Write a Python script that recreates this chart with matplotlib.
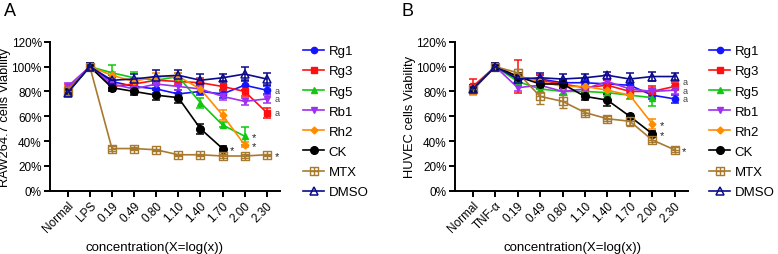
import matplotlib

matplotlib.use("Agg")

import matplotlib.pyplot as plt
import numpy as np
from matplotlib.lines import Line2D
from matplotlib.path import Path

plt.rcParams["font.family"] = ["Liberation Sans", "DejaVu Sans"]

nan = np.nan

SERIES = ["Rg1", "Rg3", "Rg5", "Rb1", "Rh2", "CK", "MTX", "DMSO"]

# panel A: RAW264.7
labels_a = ["Normal", "LPS", "0.19", "0.49", "0.80", "1.10", "1.40", "1.70", "2.00", "2.30"]
a_rg1 = [79, 100, 88, 84, 82, 78, 80, 78, 85, 81]
a_rg3 = [82, 100, 84, 86, 89, 88, 87, 84, 80, 63]
a_rg5 = [80, 100, 95, 91, 89, 92, 71, 53, 44, nan]
a_rb1 = [84, 100, 86, 82, 86, 84, 82, 76, 72, 74]
a_rh2 = [81, 100, 93, 88, 92, 92, 82, 61, 37, nan]
a_ck = [80, 100, 83, 80, 77, 75, 50, 34, nan, nan]
a_mtx = [80, 100, 34, 34, 33, 29, 29, 28, 28, 29]
a_dmso = [79, 100, 89, 90, 92, 93, 89, 91, 94, 90]

a_err_rg1 = [3, 3, 3, 3, 3, 3, 3, 3, 4, 3]
a_err_rg3 = [3, 3, 4, 3, 3, 3, 4, 4, 4, 4]
a_err_rg5 = [3, 3, 6, 5, 3, 3, 4, 2, 7, nan]
a_err_rb1 = [3, 3, 3, 3, 3, 3, 3, 3, 3, 3]
a_err_rh2 = [3, 3, 3, 3, 3, 3, 3, 4, 2, nan]
a_err_ck = [3, 3, 3, 3, 4, 4, 4, 2, nan, nan]
a_err_mtx = [3, 3, 2, 1, 1, 1, 1, 2, 2, 1]
a_err_dmso = [3, 3, 4, 4, 5, 4, 5, 3, 6, 5]

# panel B: HUVEC
labels_b = ["Normal", "TNF-\u03b1", "0.19", "0.49", "0.80", "1.10", "1.40", "1.70", "2.00", "2.30"]
b_rg1 = [82, 100, 90, 90, 87, 87, 86, 85, 77, 74]
b_rg3 = [84, 100, 92, 89, 86, 83, 85, 80, 80, 84]
b_rg5 = [82, 100, 88, 82, 80, 80, 79, 77, 75, nan]
b_rb1 = [82, 100, 83, 85, 80, 82, 88, 82, 80, 81]
b_rh2 = [81, 100, 92, 88, 84, 84, 81, 77, 54, nan]
b_ck = [82, 100, 92, 86, 86, 76, 73, 60, 46, nan]
b_mtx = [82, 100, 95, 76, 72, 63, 58, 56, 41, 33]
b_dmso = [82, 100, 90, 91, 90, 91, 93, 90, 92, 92]

b_err_rg1 = [3, 3, 3, 3, 3, 3, 3, 3, 3, 3]
b_err_rg3 = [6, 3, 13, 4, 3, 3, 4, 3, 4, 3]
b_err_rg5 = [3, 3, 3, 3, 3, 3, 3, 3, 7, nan]
b_err_rb1 = [3, 3, 3, 3, 3, 3, 5, 3, 3, 3]
b_err_rh2 = [4, 3, 3, 3, 3, 3, 3, 3, 4, nan]
b_err_ck = [3, 3, 3, 3, 3, 3, 5, 2, 2, nan]
b_err_mtx = [3, 3, 3, 6, 5, 2, 2, 4, 2, 2]
b_err_dmso = [3, 3, 4, 4, 4, 3, 3, 5, 4, 3]

# significance marks: (series, x index, text)
marks_a = [("CK", 7, "*"), ("Rg5", 8, "*"), ("Rh2", 8, "*"), ("MTX", 9, "*"),
           ("Rg1", 9, "a"), ("Rb1", 9, "a"), ("Rg3", 9, "a")]
marks_b = [("Rh2", 8, "*"), ("CK", 8, "*"), ("MTX", 9, "*"),
           ("Rg3", 9, "a"), ("Rb1", 9, "a"), ("Rg1", 9, "a")]

COLORS = {
    "Rg1": "#1414ff",
    "Rg3": "#ff1010",
    "Rg5": "#10c810",
    "Rb1": "#a030f0",
    "Rh2": "#ff8c00",
    "CK": "#000000",
    "MTX": "#a87a30",
    "DMSO": "#0a0a8c",
}

box_cross = Path(
    [(-1, -1), (1, -1), (1, 1), (-1, 1), (-1, -1), (0, -1), (0, 1), (-1, 0), (1, 0)],
    [Path.MOVETO, Path.LINETO, Path.LINETO, Path.LINETO, Path.CLOSEPOLY,
     Path.MOVETO, Path.LINETO, Path.MOVETO, Path.LINETO],
)

STYLES = {
    "Rg1": dict(marker="o", ms=4.5),
    "Rg3": dict(marker="s", ms=4.5),
    "Rg5": dict(marker="^", ms=5),
    "Rb1": dict(marker="v", ms=5),
    "Rh2": dict(marker="D", ms=3.5),
    "CK": dict(marker="o", ms=5.5),
    "MTX": dict(marker=box_cross, ms=6, mfc="none", mew=1.0),
    "DMSO": dict(marker="^", ms=5.5, mfc="none", mew=1.1),
}

PX_PER_PCT = 149 / 120  # axes height in px over the 0-120 range
PX_PER_PT = 100 / 72


def draw_panel(ax, labels, values, errors, marks, ylabel):
    x = np.arange(len(labels))
    for name in SERIES:
        y = np.asarray(values[name], dtype=float)
        e = np.asarray(errors[name], dtype=float)
        col = COLORS[name]
        ax.errorbar(x, y, yerr=e, color=col, lw=1.2, elinewidth=1.1,
                    capsize=3, capthick=1.1, mec=col, **STYLES[name])

    # "a" letters sitting at the same x get pushed up so they don't pile up
    last_px = {}
    for name, i, txt in sorted(marks, key=lambda m: values[m[0]][m[1]]):
        star = txt == "*"
        yv = values[name][i]
        dy = -1.0 if star else 0.0
        if not star:
            ypx = yv * PX_PER_PCT
            prev = last_px.get(i)
            if prev is not None and ypx - prev < 8.5:
                dy = (prev + 8.5 - ypx) / PX_PER_PT
                ypx = prev + 8.5
            last_px[i] = ypx
        ax.annotate(txt, (x[i], yv), xytext=(5.5, dy),
                    textcoords="offset points", ha="left", va="center",
                    fontsize=8 if star else 6.5,
                    color="#222222" if star else "#444444")

    ax.set_ylim(0, 120)
    ax.set_xlim(-0.8, 9.6)
    ax.set_yticks(np.arange(0, 121, 20))
    ax.set_yticklabels([f"{v}%" for v in range(0, 121, 20)])
    ax.set_xticks(x)
    ax.set_xticklabels(labels, rotation=45, ha="right", rotation_mode="anchor")
    ax.tick_params(axis="both", direction="out", length=4, width=1.4, labelsize=8.5, pad=2)
    for side in ("top", "right"):
        ax.spines[side].set_visible(False)
    for side in ("left", "bottom"):
        ax.spines[side].set_linewidth(1.4)
    ax.set_ylabel(ylabel, fontsize=9.3)
    ax.yaxis.set_label_coords(-0.168, 0.5)


def legend_handles():
    return [Line2D([], [], color=COLORS[n], lw=1.2, mec=COLORS[n], **STYLES[n]) for n in SERIES]


fig = plt.figure(figsize=(7.78, 2.55), dpi=100)
ax_a = fig.add_axes([0.0643, 0.248, 0.2956, 0.5843])
ax_b = fig.add_axes([0.5848, 0.248, 0.2995, 0.5843])

values_a = dict(zip(SERIES, [a_rg1, a_rg3, a_rg5, a_rb1, a_rh2, a_ck, a_mtx, a_dmso]))
errors_a = dict(zip(SERIES, [a_err_rg1, a_err_rg3, a_err_rg5, a_err_rb1, a_err_rh2,
                             a_err_ck, a_err_mtx, a_err_dmso]))
values_b = dict(zip(SERIES, [b_rg1, b_rg3, b_rg5, b_rb1, b_rh2, b_ck, b_mtx, b_dmso]))
errors_b = dict(zip(SERIES, [b_err_rg1, b_err_rg3, b_err_rg5, b_err_rb1, b_err_rh2,
                             b_err_ck, b_err_mtx, b_err_dmso]))

draw_panel(ax_a, labels_a, values_a, errors_a, marks_a, "RAW264.7 cells Viability")
draw_panel(ax_b, labels_b, values_b, errors_b, marks_b, "HUVEC cells Viability")

fig.text(155 / 778, 1 - 247.7 / 255, "concentration(X=log(x))", ha="center", va="center", fontsize=9.5)
fig.text(573 / 778, 1 - 247.7 / 255, "concentration(X=log(x))", ha="center", va="center", fontsize=9.5)

fig.text(4 / 778, 1 - 11 / 255, "A", fontsize=13, ha="left", va="center")
fig.text(401 / 778, 1 - 11 / 255, "B", fontsize=13, ha="left", va="center")

for x0 in (303 / 778, 709 / 778):
    fig.legend(legend_handles(), SERIES, loc="upper left", bbox_to_anchor=(x0, 1 - 46 / 255),
               frameon=False, fontsize=9.5, handlelength=1.6, handletextpad=0.35,
               labelspacing=0.6, borderpad=0, borderaxespad=0)

fig.savefig("out.png", dpi=100)
